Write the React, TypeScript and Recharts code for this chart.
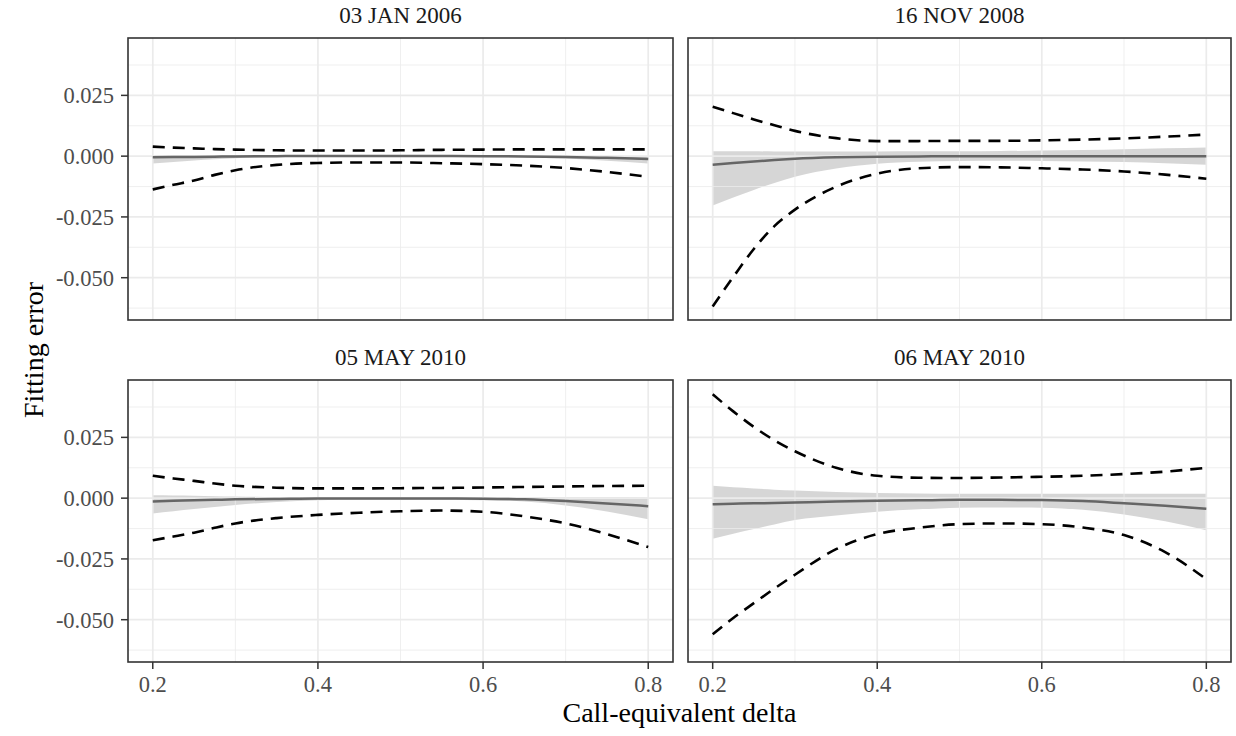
import React from 'react';
import {
  ComposedChart,
  Area,
  Line,
  XAxis,
  YAxis,
  ReferenceLine,
} from 'recharts';

// shared x grid (call-equivalent delta)
const deltas = [0.2, 0.225, 0.25, 0.275, 0.3, 0.35, 0.4, 0.45, 0.5, 0.55, 0.6, 0.65, 0.7, 0.75, 0.8];

const panelTitles = ['03 JAN 2006', '16 NOV 2008', '05 MAY 2010', '06 MAY 2010'];

// 03 JAN 2006
const jan06Upper = [0.0039, 0.0035, 0.0032, 0.0029, 0.0027, 0.0024, 0.0023, 0.0023, 0.0024, 0.0026, 0.0027, 0.0028, 0.0028, 0.0028, 0.0028];
const jan06Lower = [-0.0137, -0.0118, -0.01, -0.0077, -0.0058, -0.0036, -0.0028, -0.0026, -0.0026, -0.0029, -0.0033, -0.0039, -0.0049, -0.0065, -0.0085];
const jan06Fit = [-0.0005, -0.0004, -0.0003, -0.0002, -0.0001, 0, 0.0001, 0.0001, 0.0001, 0.0001, 0, -0.0001, -0.0003, -0.0007, -0.0012];
const jan06BandLo = [-0.003, -0.0024, -0.0018, -0.0013, -0.0009, -0.0004, -0.0002, -0.0002, -0.0002, -0.0002, -0.0004, -0.0006, -0.001, -0.0019, -0.003];
const jan06BandHi = [0.0005, 0.0005, 0.0005, 0.0005, 0.0005, 0.0004, 0.0004, 0.0004, 0.0004, 0.0004, 0.0004, 0.0004, 0.0003, 0.0001, -0.0001];

// 16 NOV 2008
const nov08Upper = [0.0203, 0.0177, 0.0151, 0.0127, 0.0104, 0.0074, 0.0062, 0.0062, 0.0063, 0.0063, 0.0065, 0.0068, 0.0073, 0.008, 0.0089];
const nov08Lower = [-0.0618, -0.0497, -0.0382, -0.0288, -0.022, -0.0126, -0.0072, -0.005, -0.0045, -0.0046, -0.005, -0.0055, -0.0063, -0.0076, -0.0093];
const nov08Fit = [-0.0035, -0.0028, -0.0022, -0.0016, -0.0011, -0.0005, -0.0002, -0.0001, 0, 0, 0, 0, 0, 0, 0];
const nov08BandLo = [-0.0203, -0.017, -0.0139, -0.011, -0.0085, -0.0051, -0.0031, -0.0023, -0.002, -0.0019, -0.002, -0.0022, -0.0024, -0.0029, -0.0035];
const nov08BandHi = [0.002, 0.002, 0.002, 0.0019, 0.0019, 0.0019, 0.0019, 0.002, 0.002, 0.0021, 0.0023, 0.0025, 0.0028, 0.0032, 0.0036];

// 05 MAY 2010
const may05Upper = [0.0092, 0.0081, 0.0071, 0.006, 0.0051, 0.0043, 0.004, 0.004, 0.0041, 0.0042, 0.0044, 0.0046, 0.0048, 0.005, 0.0051];
const may05Lower = [-0.0173, -0.0158, -0.0142, -0.0122, -0.0104, -0.0082, -0.0069, -0.006, -0.0054, -0.0051, -0.0056, -0.0075, -0.0104, -0.0148, -0.0201];
const may05Fit = [-0.0014, -0.0011, -0.0009, -0.0007, -0.0005, -0.0003, -0.0001, -0.0001, -0.0001, -0.0001, -0.0002, -0.0005, -0.0012, -0.0022, -0.0033];
const may05BandLo = [-0.0063, -0.0054, -0.0045, -0.0036, -0.0028, -0.0016, -0.0009, -0.0007, -0.0007, -0.0007, -0.0009, -0.0014, -0.003, -0.0055, -0.0087];
const may05BandHi = [0.0012, 0.0011, 0.001, 0.0008, 0.0007, 0.0005, 0.0004, 0.0004, 0.0004, 0.0004, 0.0004, 0.0004, 0.0004, 0.0004, 0.0003];

// 06 MAY 2010
const may06Upper = [0.0427, 0.0357, 0.0293, 0.0238, 0.0193, 0.0125, 0.0092, 0.0084, 0.0083, 0.0085, 0.0088, 0.0092, 0.0099, 0.0109, 0.0125];
const may06Lower = [-0.056, -0.0493, -0.0432, -0.0372, -0.0315, -0.021, -0.0148, -0.0122, -0.0107, -0.0104, -0.0107, -0.0121, -0.0152, -0.0222, -0.0333];
const may06Fit = [-0.0025, -0.0023, -0.0021, -0.002, -0.0018, -0.0014, -0.0011, -0.0009, -0.0007, -0.0007, -0.0008, -0.0012, -0.0021, -0.0031, -0.0044];
const may06BandLo = [-0.0167, -0.0146, -0.0127, -0.0108, -0.009, -0.0071, -0.0056, -0.0046, -0.0039, -0.0038, -0.0039, -0.0048, -0.0067, -0.0095, -0.0132];
const may06BandHi = [0.0051, 0.0045, 0.004, 0.0035, 0.0031, 0.0025, 0.0021, 0.0019, 0.0018, 0.0018, 0.0018, 0.0018, 0.0018, 0.0018, 0.0018];

const xTicks = [0.2, 0.4, 0.6, 0.8];
const xMinor = [0.3, 0.5, 0.7];
const yTicks = [-0.05, -0.025, 0, 0.025];
const yMinor = [-0.0625, -0.0375, -0.0125, 0.0125, 0.0375];

const xDomain = [0.17, 0.83];
const yDomain = [-0.0674, 0.0486];

const serif = "'Liberation Serif', 'DejaVu Serif', 'Times New Roman', serif";

const buildRows = (upper: number[], lower: number[], fit: number[], lo: number[], hi: number[]) =>
  deltas.map((d, i) => ({
    delta: d,
    upper: upper[i],
    lower: lower[i],
    fit: fit[i],
    band: [lo[i], hi[i]],
  }));

const panelData = [
  buildRows(jan06Upper, jan06Lower, jan06Fit, jan06BandLo, jan06BandHi),
  buildRows(nov08Upper, nov08Lower, nov08Fit, nov08BandLo, nov08BandHi),
  buildRows(may05Upper, may05Lower, may05Fit, may05BandLo, may05BandHi),
  buildRows(may06Upper, may06Lower, may06Fit, may06BandLo, may06BandHi),
];

// plot rectangles in page pixels
const PX = [128, 688];
const PY = [38, 380];
const PW = [545, 543];
const PH = 282;
const Y_AXIS_W = 128;
const X_AXIS_H = 50;

const tickStyle = { fill: '#4d4d4d', fontSize: 22.5, fontFamily: serif };
const tickLineStyle = { stroke: '#333333', strokeWidth: 1.5 };

function Panel({ idx }: { idx: number }) {
  const col = idx % 2;
  const row = Math.floor(idx / 2);
  const showY = col === 0;
  const showX = row === 1;
  const width = PW[col] + (showY ? Y_AXIS_W : 0);
  const height = PH + (showX ? X_AXIS_H : 0);
  const left = PX[col] - (showY ? Y_AXIS_W : 0);
  const top = PY[row];

  return (
    <div style={{ position: 'absolute', left, top }}>
      <ComposedChart
        width={width}
        height={height}
        data={panelData[idx]}
        margin={{ top: 0, right: 0, bottom: 0, left: 0 }}
      >
        <XAxis
          dataKey="delta"
          type="number"
          domain={xDomain}
          ticks={xTicks}
          allowDataOverflow
          hide={!showX}
          height={X_AXIS_H}
          axisLine={false}
          tickLine={tickLineStyle}
          tickSize={7}
          tickMargin={7}
          tick={tickStyle}
          tickFormatter={(v: number) => v.toFixed(1)}
        />
        <YAxis
          type="number"
          domain={yDomain}
          ticks={yTicks}
          allowDataOverflow
          hide={!showY}
          width={Y_AXIS_W}
          axisLine={false}
          tickLine={tickLineStyle}
          tickSize={7}
          tickMargin={7}
          tick={tickStyle}
          tickFormatter={(v: number) => v.toFixed(3)}
        />
        {yMinor.map((v) => (
          <ReferenceLine key={'ym' + v} y={v} stroke="#ebebeb" strokeWidth={0.8} />
        ))}
        {xMinor.map((v) => (
          <ReferenceLine key={'xm' + v} x={v} stroke="#ebebeb" strokeWidth={0.8} />
        ))}
        {yTicks.map((v) => (
          <ReferenceLine key={'yM' + v} y={v} stroke="#ebebeb" strokeWidth={1.7} />
        ))}
        {xTicks.map((v) => (
          <ReferenceLine key={'xM' + v} x={v} stroke="#ebebeb" strokeWidth={1.7} />
        ))}
        <Area
          dataKey="band"
          type="monotone"
          fill="#999999"
          fillOpacity={0.4}
          stroke="none"
          isAnimationActive={false}
          activeDot={false}
        />
        <Line
          dataKey="fit"
          type="monotone"
          stroke="#666666"
          strokeWidth={2.5}
          dot={false}
          activeDot={false}
          isAnimationActive={false}
        />
        <Line
          dataKey="upper"
          type="monotone"
          stroke="#000000"
          strokeWidth={2.6}
          strokeDasharray="12 8"
          dot={false}
          activeDot={false}
          isAnimationActive={false}
        />
        <Line
          dataKey="lower"
          type="monotone"
          stroke="#000000"
          strokeWidth={2.6}
          strokeDasharray="12 8"
          dot={false}
          activeDot={false}
          isAnimationActive={false}
        />
      </ComposedChart>
    </div>
  );
}

export default function App() {
  const centerX = (PX[0] + PX[1] + PW[1]) / 2;
  const centerY = (PY[0] + PY[1] + PH) / 2;
  return (
    <div
      style={{
        position: 'absolute',
        left: 0,
        top: 0,
        width: 1236,
        height: 736,
        background: '#ffffff',
        overflow: 'hidden',
      }}
    >
      {[0, 1, 2, 3].map((i) => (
        <Panel key={i} idx={i} />
      ))}
      <svg
        width={1236}
        height={736}
        style={{ position: 'absolute', left: 0, top: 0, pointerEvents: 'none' }}
      >
        {[0, 1, 2, 3].map((i) => {
          const col = i % 2;
          const row = Math.floor(i / 2);
          return (
            <g key={i}>
              <rect
                x={PX[col]}
                y={PY[row]}
                width={PW[col]}
                height={PH}
                fill="none"
                stroke="#333333"
                strokeWidth={1.6}
              />
              <text
                x={PX[col] + PW[col] / 2}
                y={PY[row] - 14.7}
                textAnchor="middle"
                fontFamily={serif}
                fontSize={23}
                fill="#1a1a1a"
              >
                {panelTitles[i]}
              </text>
            </g>
          );
        })}
        <text
          transform={`translate(43,${centerY}) rotate(-90)`}
          textAnchor="middle"
          fontFamily={serif}
          fontSize={28}
          fill="#000000"
        >
          Fitting error
        </text>
        <text
          x={centerX}
          y={721.5}
          textAnchor="middle"
          fontFamily={serif}
          fontSize={28}
          fill="#000000"
        >
          Call-equivalent delta
        </text>
      </svg>
    </div>
  );
}
